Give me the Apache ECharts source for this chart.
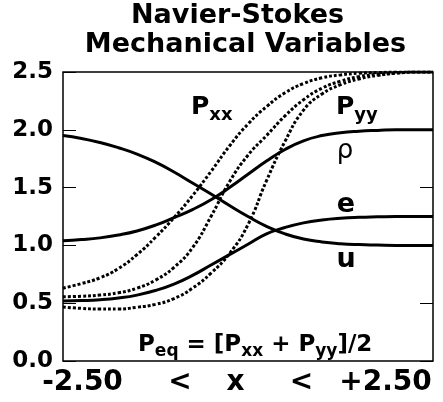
<!DOCTYPE html>
<html><head><meta charset="utf-8">
<script src="https://cdn.jsdelivr.net/npm/echarts@6/dist/echarts.min.js"></script>
<style>html,body{margin:0;padding:0;background:#fff}#c{width:443px;height:402px}</style>
</head><body><div id="c"></div>
<script>
const titleLines = ['Navier-Stokes', 'Mechanical Variables'];
const xRange = [-2.5, 2.5];
const xs  = [-2.5,-2.25,-2.0,-1.75,-1.5,-1.25,-1.0,-0.75,-0.5,-0.25,0,0.25,0.5,0.75,1.0,1.25,1.5,1.75,2.0,2.25,2.5];
const rho = [1.04,1.05,1.065,1.09,1.125,1.175,1.24,1.31,1.395,1.50,1.615,1.73,1.83,1.905,1.95,1.975,1.988,1.995,2.0,2.0,2.0];
const u   = [1.95,1.925,1.89,1.845,1.79,1.72,1.635,1.54,1.445,1.345,1.25,1.165,1.10,1.055,1.03,1.015,1.007,1.003,1.0,1.0,1.0];
const e   = [0.52,0.523,0.53,0.545,0.57,0.61,0.665,0.74,0.83,0.92,1.01,1.10,1.155,1.195,1.22,1.235,1.243,1.247,1.25,1.25,1.25];
const pxx = [0.63,0.67,0.72,0.80,0.92,1.07,1.24,1.43,1.64,1.86,2.05,2.20,2.32,2.40,2.45,2.475,2.49,2.495,2.5,2.5,2.5];
const peq = [0.556,0.56,0.57,0.59,0.63,0.70,0.81,0.98,1.25,1.55,1.78,1.95,2.12,2.26,2.36,2.42,2.46,2.48,2.49,2.5,2.5];
const pyy = [0.467,0.455,0.45,0.45,0.465,0.49,0.54,0.63,0.76,0.93,1.18,1.56,1.90,2.17,2.31,2.39,2.44,2.47,2.49,2.5,2.5];
const xAxisTokens = ['-2.50', '<', 'x', '<', '+2.50'];

const F = 'DejaVu Sans';
const chart = echarts.init(document.getElementById('c'), null, {renderer:'canvas'});
const pair = arr => xs.map((x,i)=>[x, arr[i]]);
const solid = {color:'#000', width:3, type:'solid'};
const dotted = {color:'#000', width:3, type:[3,2], cap:'butt'};
function line(name, arr, ls){
  return {name, type:'line', data:pair(arr), smooth:0.5, showSymbol:false, lineStyle:ls, silent:true, animation:false, z:3};
}
const sub = {fontFamily:F, fontWeight:'bold', fontSize:17, lineHeight:17, verticalAlign:'top', color:'#000'};
const big = {fontFamily:F, fontWeight:'bold', fontSize:25, lineHeight:25, verticalAlign:'top', color:'#000'};
function txt(text, x, y, size, align, weight){
  return {type:'text', x, y, style:{text, fontFamily:F, fontWeight:weight||'bold', fontSize:size, fill:'#000', align:align||'center', verticalAlign:'middle'}};
}
function rtxt(text, x, y, bigSize, subSize, pad){
  return {type:'text', x, y, style:{text, fill:'#000', align:'left', verticalAlign:'top',
    rich:{p:Object.assign({}, big, {fontSize:bigSize, lineHeight:bigSize}), s:Object.assign({}, sub, {fontSize:subSize, lineHeight:subSize, padding:[pad,0,0,0]})}}};
}
const tick = {show:true, inside:true, length:13, lineStyle:{color:'#000', width:1}};
const option = {
  backgroundColor:'#fff',
  animation:false,
  grid:{left:63, right:10, top:72, bottom:41, show:true, borderColor:'#000', borderWidth:1.5, backgroundColor:'transparent'},
  xAxis:{type:'value', min:xRange[0], max:xRange[1], axisLine:{show:false, onZero:false}, axisTick:{show:false}, axisLabel:{show:false}, splitLine:{show:false}},
  yAxis:[
    {type:'value', min:0, max:2.5, interval:0.5, position:'left',
     axisLine:{show:false, onZero:false}, splitLine:{show:false}, axisTick:tick,
     axisLabel:{show:true, margin:10, fontFamily:F, fontWeight:'bold', fontSize:23, color:'#000', padding:[0,0,10,0],
       formatter: v => v.toFixed(1)}},
    {type:'value', min:0, max:2.5, interval:0.5, position:'right',
     axisLine:{show:false, onZero:false}, splitLine:{show:false}, axisTick:tick,
     axisLabel:{show:false}}
  ],
  series:[
    line('rho', rho, solid), line('u', u, solid), line('e', e, solid),
    line('Pxx', pxx, dotted), line('Peq', peq, dotted), line('Pyy', pyy, dotted)
  ],
  graphic:[
    txt(titleLines[0], 237.5, 16, 27),
    txt(titleLines[1], 245.5, 44.5, 27),
    txt(xAxisTokens[0], 82.5, 382.5, 28),
    txt(xAxisTokens[1], 180, 382.5, 28),
    txt(xAxisTokens[2], 235.5, 382.5, 28),
    txt(xAxisTokens[3], 301.5, 382.5, 28),
    txt(xAxisTokens[4], 385.5, 382.5, 28),
    rtxt('{p|P}{s|xx}', 191, 95, 25, 18, 11),
    rtxt('{p|P}{s|yy}', 336, 95, 25, 18, 11),
    txt('ρ', 345, 151, 26, 'center', 'normal'),
    txt('e', 346, 205, 27),
    txt('u', 346, 260, 27),
    rtxt('{p|P}{s|eq}{p| = [P}{s|xx}{p| + P}{s|yy}{p|]/2}', 138, 334, 23, 17, 9)
  ]
};
chart.setOption(option);
</script></body></html>
